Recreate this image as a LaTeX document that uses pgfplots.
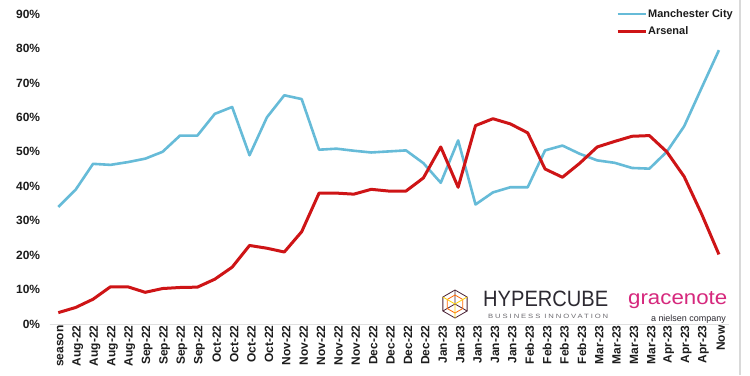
\documentclass[border=0pt]{standalone}
\usepackage{graphicx}
\usepackage{pgfplots}
\pgfplotsset{compat=1.18}
\usepackage{fontspec}
\setmainfont{Liberation Sans}
\definecolor{city}{RGB}{102,187,216}
\definecolor{ars}{RGB}{206,20,22}
\definecolor{gn}{RGB}{214,40,125}
\definecolor{lbl}{RGB}{28,28,28}
\definecolor{hc}{RGB}{45,42,50}
\pgfplotstableread{
x city ars
0 34.0 3.3
1 39.0 4.8
2 46.5 7.2
3 46.2 10.8
4 47.0 10.8
5 48.0 9.2
6 50.0 10.3
7 54.7 10.6
8 54.7 10.7
9 61.0 13.0
10 63.0 16.5
11 49.0 22.8
12 60.0 22.0
13 66.4 20.9
14 65.3 26.8
15 50.6 38.0
16 50.9 38.0
17 50.3 37.7
18 49.8 39.1
19 50.1 38.6
20 50.4 38.6
21 46.7 42.4
22 41.0 51.4
23 53.3 39.7
24 34.7 57.6
25 38.2 59.6
26 39.7 58.1
27 39.7 55.5
28 50.4 45.0
29 51.8 42.6
30 49.4 46.7
31 47.5 51.4
32 46.8 53.0
33 45.3 54.5
34 45.1 54.7
35 50.0 50.0
36 57.4 42.8
37 68.5 32.0
38 79.5 20.2
}\datatable
\begin{document}
\begin{tikzpicture}[x=1bp,y=1bp]
\useasboundingbox (0,0) rectangle (750,375);
\fill[white] (0,0) rectangle (750,375);
\draw[gray!30, line width=1.5bp] (740,0) -- (740,375);
\begin{axis}[
  at={(49.6bp,51bp)}, anchor=south west,
  scale only axis, width=678bp, height=310bp,
  xmin=-0.5, xmax=38.5, ymin=0, ymax=90,
  clip=false,
  axis line style={draw=none},
  major tick length=0,
  xtick={0,...,38},
  xticklabels={season,Aug-22,Aug-22,Aug-22,Aug-22,Sep-22,Sep-22,Sep-22,Sep-22,Oct-22,Oct-22,Oct-22,Oct-22,Nov-22,Nov-22,Nov-22,Nov-22,Nov-22,Dec-22,Dec-22,Dec-22,Dec-22,Jan-23,Jan-23,Jan-23,Jan-23,Jan-23,Feb-23,Feb-23,Feb-23,Feb-23,Mar-23,Mar-23,Mar-23,Mar-23,Apr-23,Apr-23,Apr-23,Now},
  xticklabel style={rotate=90, anchor=east, font=\bfseries\fontsize{12}{12}\selectfont, text=lbl, xshift=2bp, yshift=-2bp},
  ytick={0,10,20,30,40,50,60,70,80,90},
  yticklabels={0\%,10\%,20\%,30\%,40\%,50\%,60\%,70\%,80\%,90\%},
  yticklabel style={font=\bfseries\fontsize{12}{12}\selectfont, text=lbl, xshift=-6bp},
  legend style={at={(1.0138,1.026)}, anchor=north east, draw=none, fill=none,
    font=\bfseries\fontsize{11}{11}\selectfont, text=lbl, row sep=6bp,
    nodes={inner sep=1bp}},
  legend cell align=left,
  legend image code/.code={\draw[#1] (-4bp,0bp) -- (24bp,0bp);},
]
\draw[gray!25, line width=1bp] (axis cs:-0.5,0) -- (axis cs:38.6,0);
\addplot[city, line width=2.6bp, line join=round] table[x=x, y=city] {\datatable};
\addlegendentry{Manchester City}
\addplot[ars, line width=3bp, line join=round] table[x=x, y=ars] {\datatable};
\addlegendentry{Arsenal}
\end{axis}
% logos
\begin{scope}[line width=0.8bp]
\draw[hc!80!purple] (455,71) +(30:14) -- +(90:14) -- +(150:14) -- +(210:14) -- +(270:14) -- +(330:14) -- cycle;
\draw[hc!80!purple] (455,71) -- +(90:14) (455,71) -- +(210:14) (455,71) -- +(330:14);
\draw[orange!80!red] (455,71) +(30:9) -- +(90:9) -- +(150:9) -- +(210:9) -- +(270:9) -- +(330:9) -- cycle;
\draw[yellow!70!orange] (455,71) -- +(30:14) (455,71) -- +(150:14) (455,71) -- +(270:14);
\end{scope}
\node[anchor=base west, inner sep=0pt, text=hc] at (483,69) {\resizebox{125bp}{15.5bp}{HYPERCUBE}};
\node[anchor=base west, inner sep=0pt, text=hc!70] at (488,57) {\resizebox{120bp}{4.3bp}{\addfontfeatures{LetterSpace=25}BUSINESS INNOVATION}};
\node[anchor=base west, inner sep=0pt, text=gn] at (628,71) {\resizebox{99bp}{13bp}{gracenote}};
\node[anchor=base east, inner sep=0pt, text=hc, font=\fontsize{9}{9}\selectfont] at (726,54) {a nielsen company};
\end{tikzpicture}
\end{document}
